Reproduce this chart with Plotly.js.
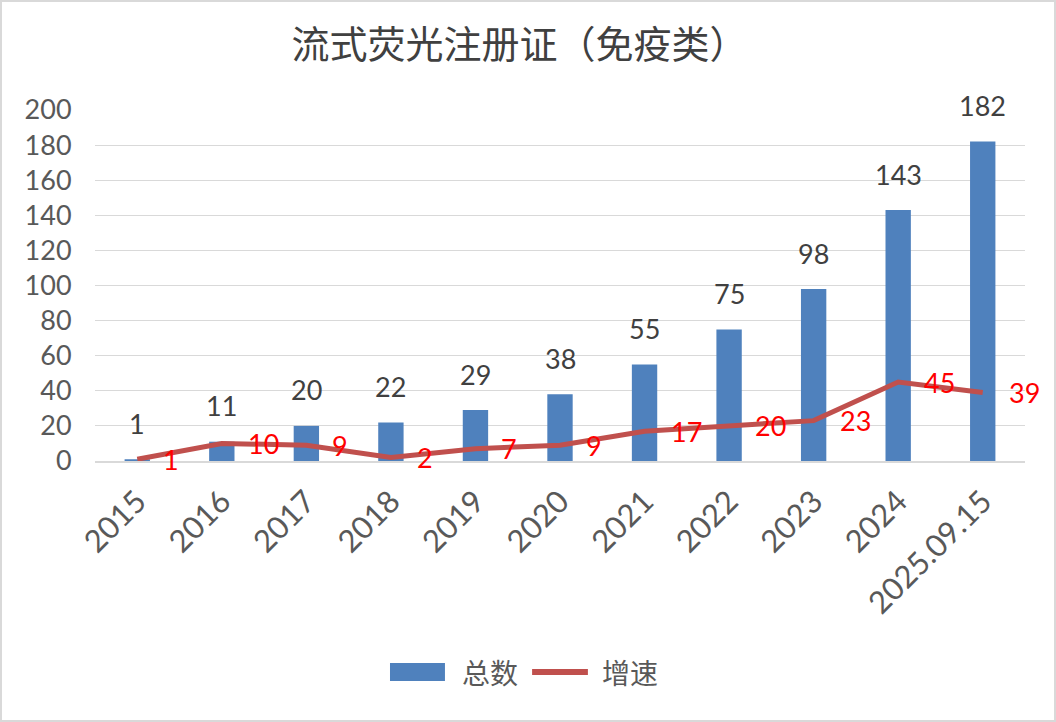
<!DOCTYPE html>
<html>
<head>
<meta charset="utf-8">
<script src="https://cdn.plot.ly/plotly-3.0.1.min.js"></script>
<style>
html,body{margin:0;padding:0;background:#fff;}
#chart{width:1056px;height:722px;box-sizing:border-box;border:2px solid #d9d9d9;}
</style>
</head>
<body>
<div id="chart"></div>
<script>
const categories = ["2015","2016","2017","2018","2019","2020","2021","2022","2023","2024","2025.09.15"];
const totals = [1, 11, 20, 22, 29, 38, 55, 75, 98, 143, 182];
const growth = [1, 10, 9, 2, 7, 9, 17, 20, 23, 45, 39];
const yTicks = [0, 20, 40, 60, 80, 100, 120, 140, 160, 180, 200];
const seriesNames = ["总数", "增速"];

const numFont = "Lato, 'Open Sans', sans-serif";
const cjkFont = "'Noto Sans CJK SC', sans-serif";
const barColor = "#4F81BD";
const lineColor = "#C0504D";

const traces = [
  {
    type: "bar", name: seriesNames[0], x: categories, y: totals,
    marker: {color: barColor}, width: 0.3, hoverinfo: "x+y"
  },
  {
    type: "scatter", mode: "lines", name: seriesNames[1], x: categories, y: growth,
    line: {color: lineColor, width: 5}, hoverinfo: "x+y"
  }
];

const annotations = [];
categories.forEach((c, i) => {
  annotations.push({
    x: i, y: totals[i], xref: "x", yref: "y", text: String(totals[i]),
    showarrow: false, yanchor: "middle", xanchor: "center", yshift: 36,
    font: {family: numFont, size: 27, color: "#404040"}
  });
  annotations.push({
    x: i, y: growth[i], xref: "x", yref: "y", text: String(growth[i]),
    showarrow: false, yanchor: "middle", xanchor: "left", xshift: 24,
    font: {family: numFont, size: 27, color: "#FF0000"}
  });
});

// custom legend (large swatches like the original)
const legY = -0.601;
annotations.push({
  x: 0.3925, y: legY, xref: "paper", yref: "paper", text: seriesNames[0],
  showarrow: false, xanchor: "left", yanchor: "middle",
  font: {family: cjkFont, size: 28, color: "#595959"}
});
annotations.push({
  x: 0.543, y: legY, xref: "paper", yref: "paper", text: seriesNames[1],
  showarrow: false, xanchor: "left", yanchor: "middle",
  font: {family: cjkFont, size: 28, color: "#595959"}
});
const shapes = [
  {type: "rect", xref: "paper", yref: "paper", x0: 0.3172, x1: 0.3763, y0: -0.5755, y1: -0.6268,
   fillcolor: barColor, line: {width: 0}},
  {type: "line", xref: "paper", yref: "paper", x0: 0.4700, x1: 0.5300, y0: legY, y1: legY,
   line: {color: lineColor, width: 6}}
];

const layout = {
  width: 1052, height: 718,
  margin: {l: 93, r: 29, t: 108, b: 259},
  paper_bgcolor: "#fff", plot_bgcolor: "#fff",
  title: {
    text: "流式荧光注册证（免疫类）",
    font: {family: cjkFont, size: 38, color: "#404040"},
    x: 0.492, xanchor: "center", y: 0.94, yanchor: "middle"
  },
  xaxis: {
    type: "category", tickangle: -45, range: [-0.5, 10.5], autorange: false,
    tickfont: {family: numFont, size: 31, color: "#595959"},
    showline: true, linecolor: "#d9d9d9", linewidth: 2,
    ticks: "outside", ticklen: 8, tickcolor: "rgba(0,0,0,0)",
    showgrid: false, zeroline: false
  },
  yaxis: {
    range: [0, 200], autorange: false, tickvals: yTicks,
    tickfont: {family: numFont, size: 27, color: "#595959"},
    showgrid: true, gridcolor: "#d9d9d9", gridwidth: 1,
    zeroline: false, showline: false,
    ticks: "outside", ticklen: 17, tickcolor: "rgba(0,0,0,0)"
  },
  showlegend: false,
  annotations: annotations,
  shapes: shapes
};

Plotly.newPlot("chart", traces, layout, {displayModeBar: false, staticPlot: true});
</script>
</body>
</html>
